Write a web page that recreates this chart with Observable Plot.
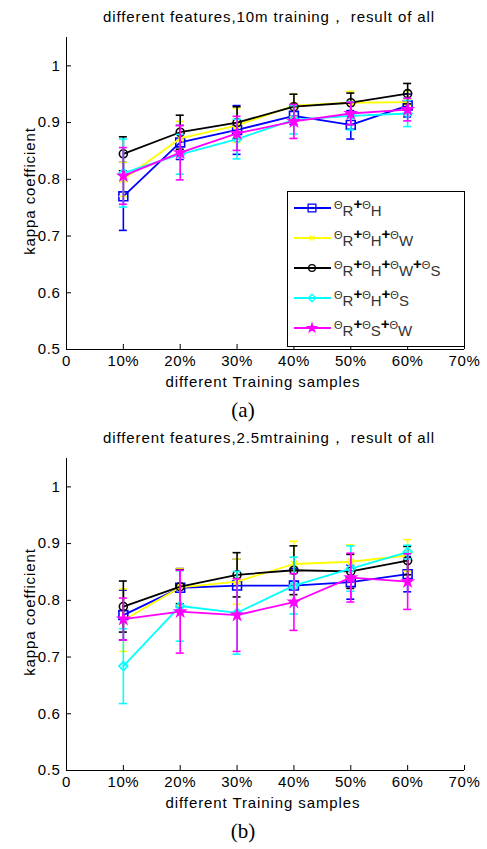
<!DOCTYPE html>
<html><head><meta charset="utf-8">
<script src="https://cdn.jsdelivr.net/npm/d3@7"></script>
<script src="https://cdn.jsdelivr.net/npm/@observablehq/plot@0.6"></script>
<style>
body{margin:0;background:#fff;}
#wrap{position:relative;width:487px;height:849px;font-family:Arial,"Liberation Sans",sans-serif;color:#000;overflow:hidden;}
.t{position:absolute;white-space:nowrap;}
.abs{position:absolute;}
</style></head><body><div id="wrap"></div>
<script>
// ---------- data ----------
const trainingFractions = [0.1, 0.2, 0.3, 0.4, 0.5, 0.6];
const xTickValues = [0, 0.1, 0.2, 0.3, 0.4, 0.5, 0.6, 0.7];
const xTickLabels = ["0", "10%", "20%", "30%", "40%", "50%", "60%", "70%"];
const yTickValues = [0.5, 0.6, 0.7, 0.8, 0.9, 1];
const yTickLabels = ["0.5", "0.6", "0.7", "0.8", "0.9", "1"];
const seriesKeys = ["RH", "RHW", "RHWS", "RHS", "RSW"];
const seriesColors = ["#0000ff", "#ffff00", "#000000", "#00ffff", "#ff00ff"];
const seriesSymbols = ["square", "times", "circle", "diamond2", "star"];
// legend labels: theta subscript parts
const seriesLegendParts = [["R", "H"], ["R", "H", "W"], ["R", "H", "W", "S"], ["R", "H", "S"], ["R", "S", "W"]];

// (a) 10m training
const a_RH   = [0.770, 0.865, 0.887, 0.912, 0.896, 0.930];
const a_RHW  = [0.800, 0.872, 0.895, 0.930, 0.935, 0.936];
const a_RHWS = [0.845, 0.883, 0.900, 0.928, 0.935, 0.951];
const a_RHS  = [0.811, 0.844, 0.871, 0.905, 0.912, 0.916];
const a_RSW  = [0.806, 0.847, 0.881, 0.902, 0.916, 0.923];
const a_RH_err   = [0.060, 0.030, 0.043, 0.015, 0.025, 0.020];
const a_RHW_err  = [0.030, 0.030, 0.030, 0.020, 0.020, 0.020];
const a_RHWS_err = [0.030, 0.030, 0.028, 0.022, 0.017, 0.018];
const a_RHS_err  = [0.060, 0.035, 0.035, 0.025, 0.025, 0.023];
const a_RSW_err  = [0.050, 0.048, 0.030, 0.030, 0.020, 0.020];

// (b) 2.5m training
const b_RH   = [0.774, 0.822, 0.826, 0.826, 0.832, 0.846];
const b_RHW  = [0.765, 0.823, 0.833, 0.864, 0.868, 0.879];
const b_RHWS = [0.789, 0.824, 0.845, 0.853, 0.851, 0.870];
const b_RHS  = [0.684, 0.790, 0.778, 0.826, 0.856, 0.885];
const b_RSW  = [0.767, 0.780, 0.774, 0.797, 0.840, 0.833];
const b_RH_err   = [0.044, 0.034, 0.047, 0.030, 0.030, 0.031];
const b_RHW_err  = [0.055, 0.033, 0.040, 0.040, 0.030, 0.028];
const b_RHWS_err = [0.045, 0.030, 0.039, 0.043, 0.030, 0.025];
const b_RHS_err  = [0.066, 0.062, 0.073, 0.050, 0.040, 0.012];
const b_RSW_err  = [0.037, 0.073, 0.064, 0.050, 0.043, 0.049];

const chartA = {title: "different features,10m training，  result of all", caption: "(a)",
  values: [a_RH, a_RHW, a_RHWS, a_RHS, a_RSW], errs: [a_RH_err, a_RHW_err, a_RHWS_err, a_RHS_err, a_RSW_err]};
const chartB = {title: "different features,2.5mtraining，  result of all", caption: "(b)",
  values: [b_RH, b_RHW, b_RHWS, b_RHS, b_RSW], errs: [b_RH_err, b_RHW_err, b_RHWS_err, b_RHS_err, b_RSW_err]};

// ---------- drawing ----------
const wrap = document.getElementById("wrap");
const FONT = "Arial, 'Liberation Sans', sans-serif";

function addText(txt, css) {
  const d = document.createElement("div");
  d.className = "t";
  d.textContent = txt;
  Object.assign(d.style, css);
  wrap.appendChild(d);
  return d;
}

function makeChart(chart, top) {
  const rows = [];
  chart.values.forEach((vals, si) => vals.forEach((v, i) => rows.push({
    s: seriesKeys[si], si, x: trainingFractions[i], y: v, e: chart.errs[si][i]
  })));
  const marks = [
    Plot.ruleY([0.5], {x1: 0, x2: 0.7, stroke: "#000", strokeWidth: 1}),
    Plot.ruleX([0], {y1: 0.5, y2: 1.05, stroke: "#000", strokeWidth: 1}),
    Plot.ruleY(yTickValues, {x1: 0, x2: 0, insetRight: -5, stroke: "#000"}),
    Plot.ruleX(xTickValues, {y1: 0.5, y2: 0.5, insetTop: -5, stroke: "#000"}),
    Plot.axisY({ticks: yTickValues, tickFormat: d => yTickLabels[yTickValues.indexOf(d)], tickSize: 0, tickPadding: 6, label: null}),
    Plot.axisX({ticks: xTickValues, tickFormat: d => xTickLabels[xTickValues.findIndex(v => Math.abs(v - d) < 1e-9)], tickSize: 0, tickPadding: 6, label: null}),
  ];
  seriesKeys.forEach((k, si) => {
    const data = rows.filter(r => r.si === si);
    const c = seriesColors[si];
    const s = seriesSymbols[si];
    marks.push(
      Plot.ruleX(data, {x: "x", y1: d => d.y - d.e, y2: d => d.y + d.e, stroke: c, strokeWidth: 1.6}),
      Plot.ruleY(data, {y: d => d.y + d.e, x1: "x", x2: "x", insetLeft: -4, insetRight: -4, stroke: c, strokeWidth: 1.6}),
      Plot.ruleY(data, {y: d => d.y - d.e, x1: "x", x2: "x", insetLeft: -4, insetRight: -4, stroke: c, strokeWidth: 1.6}),
      Plot.line(data, {x: "x", y: "y", stroke: c, strokeWidth: 1.8}),
      Plot.dot(data, {x: "x", y: "y", symbol: () => s, r: s === "square" ? 5 : s === "star" ? 3.2 : s === "times" ? 3 : 4,
        stroke: c, strokeWidth: 1.6, fill: s === "star" ? c : "none"})
    );
  });
  const svg = Plot.plot({
    width: 487, height: 372,
    marginLeft: 66, marginRight: 23, marginTop: 37, marginBottom: 23,
    x: {domain: [0, 0.7], axis: null},
    y: {domain: [0.5, 1.05], axis: null},
    style: {fontFamily: FONT, fontSize: "15px", letterSpacing: "0.6px", background: "transparent", color: "#000", overflow: "visible"},
    marks
  });
  svg.classList.add("abs");
  svg.style.left = "0px";
  svg.style.top = top + "px";
  wrap.appendChild(svg);
}

makeChart(chartA, 0);
makeChart(chartB, 421);

// titles, axis labels, captions
const labelCss = {fontSize: "15px", letterSpacing: "0.9px", fontFamily: FONT};
[[chartA, 0], [chartB, 421]].forEach(([ch, off]) => {
  addText(ch.title, Object.assign({left: "269px", top: (8 + off) + "px", transform: "translateX(-50%)"}, labelCss));
  addText("kappa coefficient", Object.assign({left: "29px", top: (191 + off) + "px", transform: "translate(-50%,-50%) rotate(-90deg)"}, labelCss));
  addText("different Training samples", Object.assign({left: "263px", top: (373 + off) + "px", transform: "translateX(-50%)"}, labelCss));
  addText(ch.caption, {left: "243px", top: (398 + off) + "px", transform: "translateX(-50%)", fontSize: "21px", fontFamily: "'Times New Roman','Liberation Serif',serif"});
});

// legend (top chart only)
(function legend() {
  const W = 178, H = 156;
  const svg = d3.create("svg").attr("width", W).attr("height", H)
    .attr("class", "abs").style("left", "287px").style("top", "191px");
  svg.append("rect").attr("x", 0.5).attr("y", 0.5).attr("width", W - 1).attr("height", H - 1)
    .attr("fill", "#fff").attr("stroke", "#000");
  const sym = {square: d3.symbolSquare, times: d3.symbolTimes, circle: d3.symbolCircle, diamond2: d3.symbolDiamond2, star: d3.symbolStar};
  seriesKeys.forEach((k, i) => {
    const y = 17 + i * 30;
    const c = seriesColors[i];
    const s = seriesSymbols[i];
    svg.append("line").attr("x1", 7).attr("x2", 44).attr("y1", y).attr("y2", y).attr("stroke", c).attr("stroke-width", 1.8);
    const size = s === "square" ? 60 : s === "star" ? 22 : s === "times" ? 18 : 36;
    svg.append("path").attr("d", d3.symbol(sym[s], size)()).attr("transform", `translate(25,${y})`)
      .attr("stroke", c).attr("stroke-width", 1.3).attr("fill", s === "star" ? c : "none");
    const t = svg.append("text").attr("x", 47).attr("y", y + 1).attr("font-family", FONT).attr("fill", "#333");
    seriesLegendParts[i].forEach((p, j) => {
      if (j > 0) t.append("tspan").attr("dy", -7).attr("font-size", 15).attr("font-weight", "bold").attr("fill", "#000").text("+");
      t.append("tspan").attr("font-size", 11).text("Θ");
      t.append("tspan").attr("dy", 7).attr("font-size", 15).text(p);
    });
  });
  wrap.appendChild(svg.node());
})();
</script>
</body></html>
